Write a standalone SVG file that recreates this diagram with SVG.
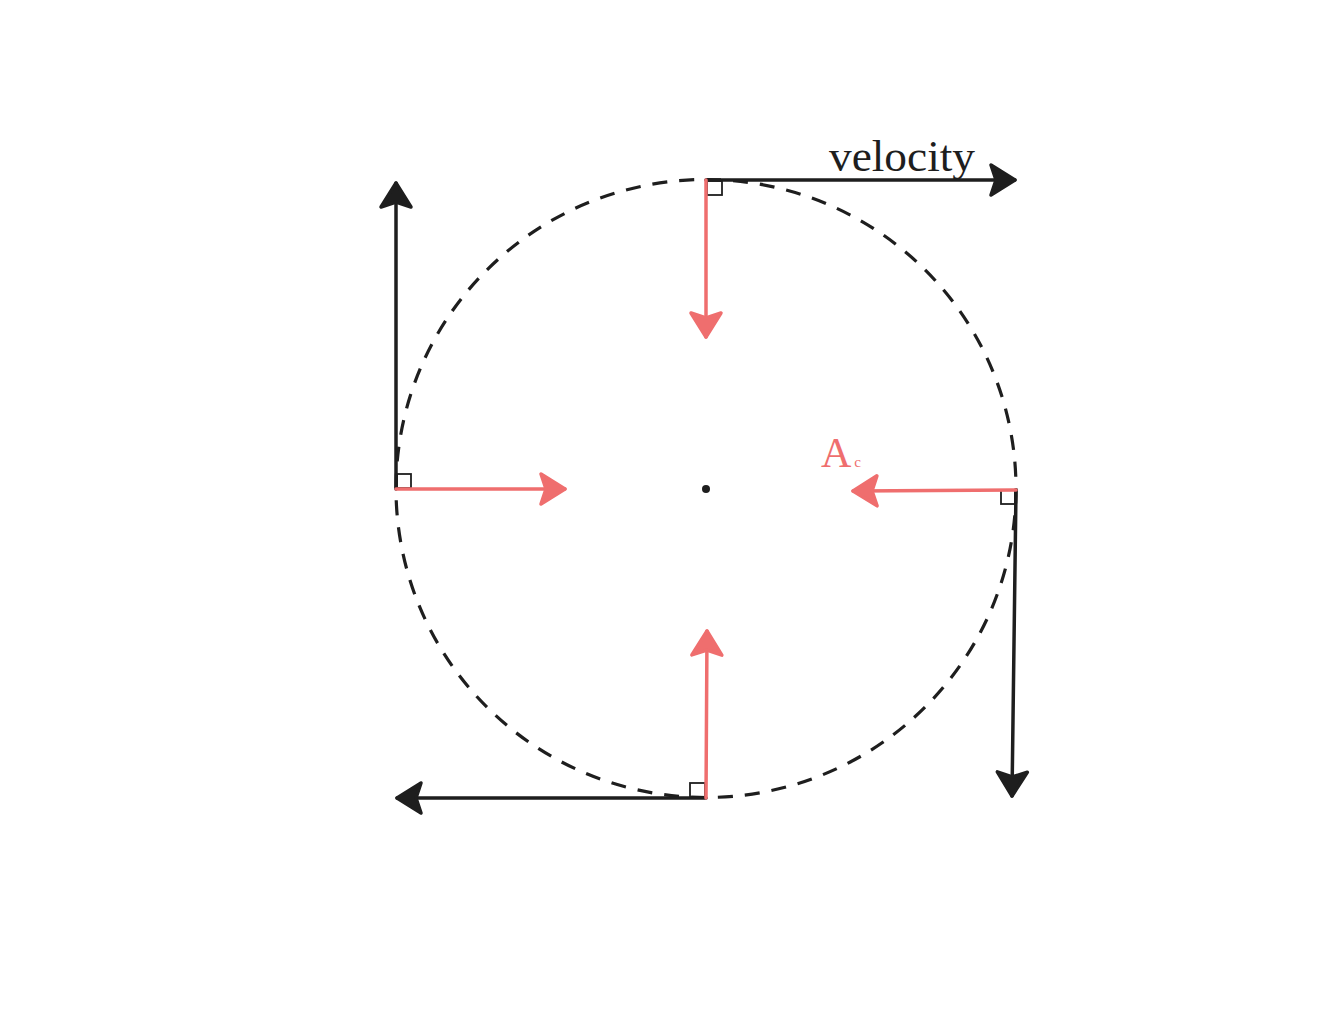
<svg xmlns="http://www.w3.org/2000/svg" width="1344" height="1028" viewBox="0 0 1344 1028">
<defs>
<style>
.blk{stroke:#1e1e1e;stroke-width:3.5;fill:none;stroke-linecap:round}
.red{stroke:#ef6e6e;stroke-width:3.5;fill:none;stroke-linecap:round}
.sq{stroke:#1e1e1e;stroke-width:1.8;fill:none}
.orbit{stroke:#1e1e1e;stroke-width:3.2;fill:none;stroke-dasharray:15 12}
.lbl{font-family:"Liberation Serif","DejaVu Serif",serif}
</style>
<marker id="hb" viewBox="-32 -22 36 44" markerWidth="36" markerHeight="44" refX="0" refY="0" orient="auto" markerUnits="userSpaceOnUse">
<path d="M0,0 L-24,-15 L-19,0 L-24,15 Z" fill="#1e1e1e" stroke="#1e1e1e" stroke-width="3.5" stroke-linejoin="round"/>
</marker>
<marker id="hr" viewBox="-32 -22 36 44" markerWidth="36" markerHeight="44" refX="0" refY="0" orient="auto" markerUnits="userSpaceOnUse">
<path d="M0,0 L-24,-15 L-19,0 L-24,15 Z" fill="#ef6e6e" stroke="#ef6e6e" stroke-width="3.5" stroke-linejoin="round"/>
</marker>
</defs>
<rect width="1344" height="1028" fill="#ffffff"/>
<g id="orbit">
<ellipse class="orbit" cx="706" cy="488.5" rx="310" ry="309"/>
</g>
<g id="center">
<circle cx="706" cy="489" r="4" fill="#1e1e1e"/>
</g>
<g id="right-angles">
<rect class="sq" x="707" y="181" width="15" height="14"/>
<rect class="sq" x="397" y="474" width="14" height="14"/>
<rect class="sq" x="1001" y="490" width="14" height="14"/>
<rect class="sq" x="690" y="783" width="15" height="14"/>
</g>
<g id="connectors">
<line class="blk" x1="706" y1="180" x2="1015" y2="180" marker-end="url(#hb)"/>
<line class="blk" x1="396" y1="489" x2="396" y2="183" marker-end="url(#hb)"/>
<line class="blk" x1="1016" y1="490" x2="1012" y2="796" marker-end="url(#hb)"/>
<line class="blk" x1="706" y1="798" x2="397" y2="798" marker-end="url(#hb)"/>
<line class="red" x1="706" y1="180" x2="706" y2="337" marker-end="url(#hr)"/>
<line class="red" x1="396" y1="489" x2="565" y2="489" marker-end="url(#hr)"/>
<line class="red" x1="1016" y1="490" x2="853" y2="491" marker-end="url(#hr)"/>
<line class="red" x1="706" y1="798" x2="707" y2="631" marker-end="url(#hr)"/>
</g>
<g id="label-velocity">
<text class="lbl" x="829" y="171" font-size="44" fill="#1e1e1e" textLength="146" lengthAdjust="spacingAndGlyphs">velocity</text>
</g>
<g id="label-ac">
<text class="lbl" x="821" y="467" font-size="42" fill="#ef6e6e">A<tspan font-size="15" dx="3">c</tspan></text>
</g>
</svg>
